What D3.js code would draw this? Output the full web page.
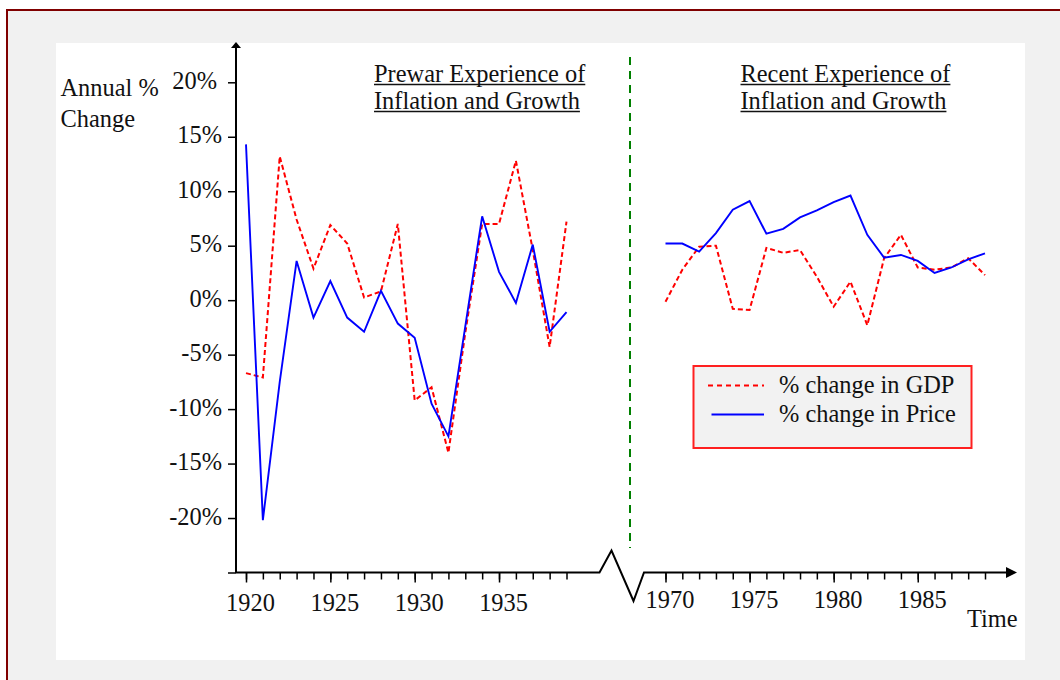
<!DOCTYPE html>
<html>
<head>
<meta charset="utf-8">
<script src="https://cdn.jsdelivr.net/npm/d3@7/dist/d3.min.js"></script>
<style>
  html, body { margin: 0; padding: 0; background: #ffffff; }
  svg { display: block; }
  text { font-family: "Liberation Serif", "Times New Roman", Times, serif; fill: #111; }
</style>
</head>
<body>
<svg id="chart" width="1060" height="680"></svg>
<script>
// Annual % change, prewar years and recent years
const prewarYears = d3.range(1920, 1940);
const prewarGDP = [-6.7, -7.1, 13.2, 7.4, 2.9, 6.9, 5.2, 0.25, 0.8, 7.0,
                   -9.2, -8.0, -14.0, -3.0, 7.0, 7.0, 12.8, 4.6, -4.3, 7.2];
const prewarPrice = [14.3, -20.2, -7.5, 3.6, -1.6, 1.75, -1.6, -2.9, 0.86, -2.15,
                     -3.45, -9.5, -12.5, -2.4, 7.7, 2.6, -0.25, 5.1, -2.9, -1.1];

const recentYears = d3.range(1970, 1990);
const recentGDP = [-0.15, 2.8, 4.9, 5.0, -0.8, -0.9, 4.8, 4.35, 4.6, 2.15,
                   -0.6, 1.7, -2.3, 3.85, 6.0, 3.0, 2.8, 3.0, 3.85, 2.3];
const recentPrice = [5.2, 5.2, 4.45, 6.15, 8.3, 9.1, 6.1, 6.55, 7.6, 8.25,
                     9.0, 9.6, 6.0, 3.9, 4.15, 3.6, 2.5, 3.0, 3.75, 4.3];

const yTicks = [20, 15, 10, 5, 0, -5, -10, -15, -20, -25];
const prewarLabels = [1920, 1925, 1930, 1935];
const recentLabels = [1970, 1975, 1980, 1985];

const titles = [["Prewar Experience of", "Inflation and Growth"],
                ["Recent Experience of", "Inflation and Growth"]];
const seriesNames = ["% change in GDP", "% change in Price"];

const svg = d3.select("#chart");
const FS = "24.4px";

// page frame
svg.append("rect").attr("x", 7).attr("y", 10).attr("width", 1070).attr("height", 690)
  .attr("fill", "#f1f1f1").attr("stroke", "#800000").attr("stroke-width", 2);
svg.append("rect").attr("x", 56).attr("y", 43).attr("width", 969).attr("height", 617)
  .attr("fill", "#ffffff");

// scales
const y = d3.scaleLinear().domain([-25, 20]).range([572.5, 82.3]);
const xPre = d3.scaleLinear().domain([1920, 1939]).range([246, 566.5]);
const xRec = d3.scaleLinear().domain([1970, 1989]).range([665.5, 985]);
const axisY = y(-25);
const axisX = 236;

// y axis
const yAxis = svg.append("g").attr("transform", `translate(${axisX},0)`)
  .call(d3.axisLeft(y).tickValues(yTicks).tickSize(8).tickPadding(6)
        .tickFormat(d => d === -25 ? "" : d + "%"));
yAxis.select(".domain").remove();
yAxis.selectAll(".tick line").attr("stroke", "#000").attr("stroke-width", 1.5);
yAxis.selectAll(".tick text").style("font-size", FS).attr("fill", "#111")
  .attr("font-family", null).attr("dy", "0.25em")
  .attr("dx", d => d === 20 ? -5 : 0);
svg.append("line").attr("x1", axisX).attr("x2", axisX).attr("y1", axisY + 0.5).attr("y2", 47)
  .attr("stroke", "#000").attr("stroke-width", 2);
svg.append("path").attr("d", `M${axisX - 5},48 L${axisX},42 L${axisX + 5},48 Z`).attr("fill", "#000");

// x axes: minor ticks every year, major ticks with labels
function drawXAxis(scale, years, labels, baseline) {
  const minor = svg.append("g").attr("transform", `translate(0,${axisY})`)
    .call(d3.axisBottom(scale).tickValues(years).tickSize(7).tickFormat(""));
  minor.select(".domain").remove();
  minor.selectAll(".tick line").attr("stroke", "#000").attr("stroke-width", 1.5);
  const major = svg.append("g").attr("transform", `translate(0,${axisY})`)
    .call(d3.axisBottom(scale).tickValues(labels).tickSize(10).tickFormat(d3.format("d")));
  major.select(".domain").remove();
  major.selectAll(".tick line").attr("stroke", "#000").attr("stroke-width", 1.5);
  major.selectAll(".tick text").style("font-size", FS).attr("fill", "#111")
    .attr("font-family", null).attr("y", baseline - axisY).attr("dy", 0).attr("dx", 4);
}
drawXAxis(xPre, prewarYears, prewarLabels, 611);
drawXAxis(xRec, recentYears, recentLabels, 608);

// horizontal axis with break between the two periods
const breakPath = d3.path();
breakPath.moveTo(axisX, axisY);
breakPath.lineTo(599.5, axisY);
breakPath.lineTo(611.5, 550.5);
breakPath.lineTo(633.5, 601);
breakPath.lineTo(644, axisY);
breakPath.lineTo(1008, axisY);
svg.append("path").attr("d", breakPath.toString()).attr("fill", "none")
  .attr("stroke", "#000").attr("stroke-width", 2);
svg.append("path").attr("d", `M1006,${axisY - 5.5} L1017,${axisY} L1006,${axisY + 5.5} Z`).attr("fill", "#000");

// period separator
svg.append("line").attr("x1", 630).attr("x2", 630).attr("y1", 57).attr("y2", 548)
  .attr("stroke", "#008000").attr("stroke-width", 2).attr("stroke-dasharray", "8,6");

// series lines
function drawLine(scale, years, values, color, dash) {
  const line = d3.line().x((d, i) => scale(years[i])).y(d => y(d));
  svg.append("path").datum(values).attr("d", line).attr("fill", "none")
    .attr("stroke", color).attr("stroke-width", dash ? 2 : 1.9)
    .attr("stroke-linejoin", "miter")
    .attr("stroke-dasharray", dash || null);
}
drawLine(xPre, prewarYears, prewarGDP, "#ff0000", "5,3");
drawLine(xPre, prewarYears, prewarPrice, "#0000ff", null);
drawLine(xRec, recentYears, recentGDP, "#ff0000", "5,3");
drawLine(xRec, recentYears, recentPrice, "#0000ff", null);

// y axis caption
svg.append("text").attr("x", 60.5).attr("y", 96).style("font-size", FS).text("Annual %");
svg.append("text").attr("x", 60.5).attr("y", 127).style("font-size", FS).text("Change");

// underlined panel titles
function drawTitle(lines, x) {
  lines.forEach((s, i) => {
    const base = 82 + i * 27;
    const t = svg.append("text").attr("x", x).attr("y", base).style("font-size", FS).text(s);
    const w = t.node().getComputedTextLength();
    svg.append("line").attr("x1", x).attr("x2", x + w).attr("y1", base + 2.5).attr("y2", base + 2.5)
      .attr("stroke", "#111").attr("stroke-width", 1.3);
  });
}
drawTitle(titles[0], 374);
drawTitle(titles[1], 740.5);

// legend
const lg = svg.append("g");
lg.append("rect").attr("x", 693.5).attr("y", 366).attr("width", 278).attr("height", 82)
  .attr("fill", "#f2f2f2").attr("stroke", "#ff2020").attr("stroke-width", 2);
const legendItems = [
  { name: seriesNames[0], color: "#ff0000", dash: "5,4", y: 385.5 },
  { name: seriesNames[1], color: "#0000ff", dash: null, y: 414.5 }
];
legendItems.forEach(it => {
  lg.append("line").attr("x1", it.dash ? 708 : 711.5).attr("x2", 764).attr("y1", it.y).attr("y2", it.y)
    .attr("stroke", it.color).attr("stroke-width", 1.8).attr("stroke-dasharray", it.dash);
  lg.append("text").attr("x", 779).attr("y", it.y + 7).style("font-size", FS).text(it.name);
});

// horizontal axis caption
svg.append("text").attr("x", 967).attr("y", 627).style("font-size", FS).text("Time");
</script>
</body>
</html>
